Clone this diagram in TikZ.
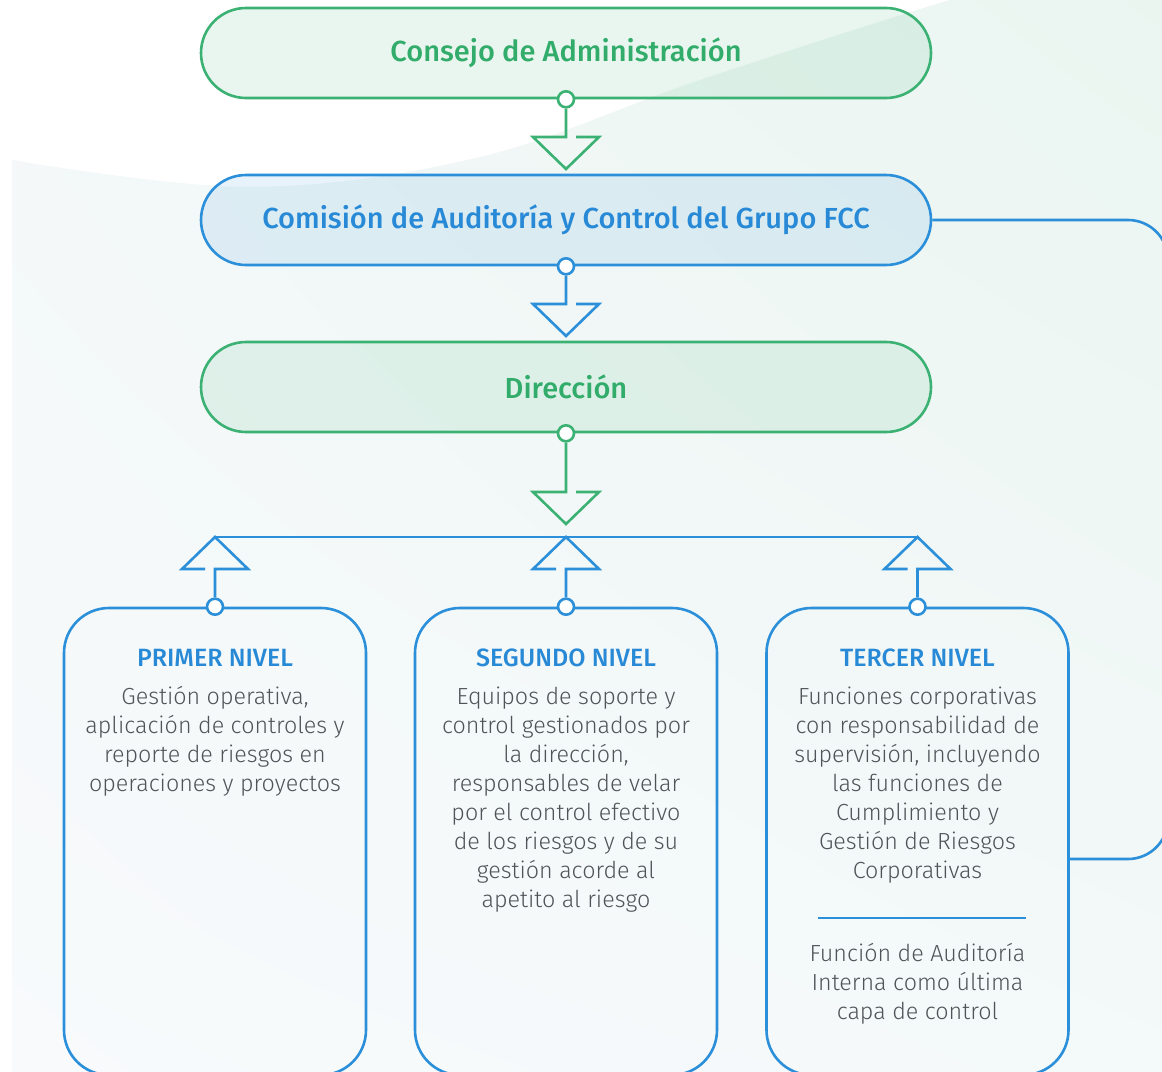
\documentclass[tikz,border=0pt]{standalone}
\usepackage{fontspec}
\setmainfont{Fira Sans}
\newfontfamily\bodyfont{Fira Sans Light}
\newfontfamily\headfont{Fira Sans Medium}
\usetikzlibrary{calc,shadings}
\definecolor{gstroke}{RGB}{59,178,115}
\definecolor{gtext}{RGB}{50,172,106}
\definecolor{bstroke}{RGB}{43,143,217}
\definecolor{btext}{RGB}{40,138,214}
\definecolor{graytext}{RGB}{80,84,88}
\definecolor{bgUL}{RGB}{243,248,248}
\definecolor{bgUR}{RGB}{234,245,240}
\definecolor{bgLL}{RGB}{248,250,252}
\definecolor{bgLR}{RGB}{244,249,250}
\newcommand{\mylines}[1]{\begin{tabular}[t]{@{}c@{}}#1\end{tabular}}
\begin{document}
\begin{tikzpicture}[x=1pt,y=-1pt,
  topbox/.style={draw=#1, fill=#1, fill opacity=0.11, text opacity=1, line width=2.6pt,
    rounded corners=45pt, minimum width=730pt, minimum height=90pt, inner sep=0pt,
    font=\headfont\fontsize{29}{34}\selectfont},
  levelbox/.style={draw=bstroke, line width=2.6pt, rounded corners=45pt,
    minimum width=302pt, minimum height=467pt, inner sep=0pt},
  dotnode/.style={circle, draw=#1, fill=white, line width=2.6pt, minimum size=16pt, inner sep=0pt},
  conn/.style={draw=#1, line width=2.6pt, line join=miter},
  lvtitle/.style={text=btext, font=\headfont\fontsize{25}{29}\selectfont, inner sep=0pt},
  lvbody/.style={text=graytext, font=\bodyfont\fontsize{23.3}{29}\selectfont, inner sep=0pt}
]
\useasboundingbox (0,0) rectangle (1162,1071);
\clip (0,0) rectangle (1162,1071);
\fill[white] (0,0) rectangle (1162,1071);
\shade[upper left=bgUL, upper right=bgUR, lower left=bgLL, lower right=bgLR]
  (12,1090) -- plot[smooth, tension=0.6] coordinates {(12,160) (250,187) (480,157) (700,80) (950,0) (1010,-12)}
  -- (1175,-12) -- (1175,1090) -- cycle;

% top boxes
\node[topbox=gstroke, text=gtext] (consejo) at (566,53) {Consejo de Administración};
\node[topbox=bstroke, text=btext] (comision) at (566,220) {Comisión de Auditoría y Control del Grupo FCC};
\node[topbox=gstroke, text=gtext] (direccion) at (566,387) {Dirección};

% level boxes
\node[levelbox] (n1) at (215,841.5) {};
\node[levelbox] (n2) at (566,841.5) {};
\node[levelbox] (n3) at (917.5,841.5) {};

% dots
\node[dotnode=gstroke] (c1) at (consejo.south) {};
\node[dotnode=bstroke] (c2) at (comision.south) {};
\node[dotnode=gstroke] (c3) at (direccion.south) {};
\node[dotnode=bstroke] (d1) at (n1.north) {};
\node[dotnode=bstroke] (d2) at (n2.north) {};
\node[dotnode=bstroke] (d3) at (n3.north) {};

% down arrows
\coordinate (a1) at (566,137);
\coordinate (a2) at (566,304);
\coordinate (a3) at (566,492);
\draw[conn=gstroke] (c1) -- (a1) -- ++(-33,0) -- ++(33,32) -- ++(33,-32) -- ++(-23,0);
\draw[conn=bstroke] (c2) -- (a2) -- ++(-33,0) -- ++(33,32) -- ++(33,-32) -- ++(-23,0);
\draw[conn=gstroke] (c3) -- (a3) -- ++(-33,0) -- ++(33,32) -- ++(33,-32) -- ++(-23,0);

% bar and up arrows
\coordinate (barL) at (215,537);
\coordinate (barR) at (917.5,537);
\draw[conn=bstroke] (barL) -- (barR);
\coordinate (u1) at (215,569);
\coordinate (u2) at (566,569);
\coordinate (u3) at (917.5,569);
\draw[conn=bstroke] (d1) -- (u1) -- ++(33,0) -- ++(-33,-32) -- ++(-33,32) -- ++(23,0);
\draw[conn=bstroke] (d2) -- (u2) -- ++(33,0) -- ++(-33,-32) -- ++(-33,32) -- ++(23,0);
\draw[conn=bstroke] (d3) -- (u3) -- ++(33,0) -- ++(-33,-32) -- ++(-33,32) -- ++(23,0);

% right feedback connector
\coordinate (tapR) at (1068.5,859);
\draw[conn=bstroke, rounded corners=40pt] (comision.east) -- (1168,220) -- (1168,859) -- (tapR);

% level texts
\node[lvtitle, anchor=base] (t1) at (215,666) {PRIMER NIVEL};
\node[lvtitle, anchor=base] (t2) at (566,666) {SEGUNDO NIVEL};
\node[lvtitle, anchor=base] (t3) at (917.5,666) {TERCER NIVEL};
\node[lvbody, anchor=base] (b1) at (215,704) {\mylines{Gestión operativa,\\aplicación de controles y\\reporte de riesgos en\\operaciones y proyectos}};
\node[lvbody, anchor=base] (b2) at (566,704) {\mylines{Equipos de soporte y\\control gestionados por\\la dirección,\\responsables de velar\\por el control efectivo\\de los riesgos y de su\\gestión acorde al\\apetito al riesgo}};
\node[lvbody, anchor=base] (b3) at (917.5,704) {\mylines{Funciones corporativas\\con responsabilidad de\\supervisión, incluyendo\\las funciones de\\Cumplimiento y\\Gestión de Riesgos\\Corporativas}};
\coordinate (divL) at (818,918);
\coordinate (divR) at (1026,918);
\draw[conn=bstroke] (divL) -- (divR);
\node[lvbody, anchor=base] (b4) at (917.5,961) {\mylines{Función de Auditoría\\Interna como última\\capa de control}};
\end{tikzpicture}
\end{document}
